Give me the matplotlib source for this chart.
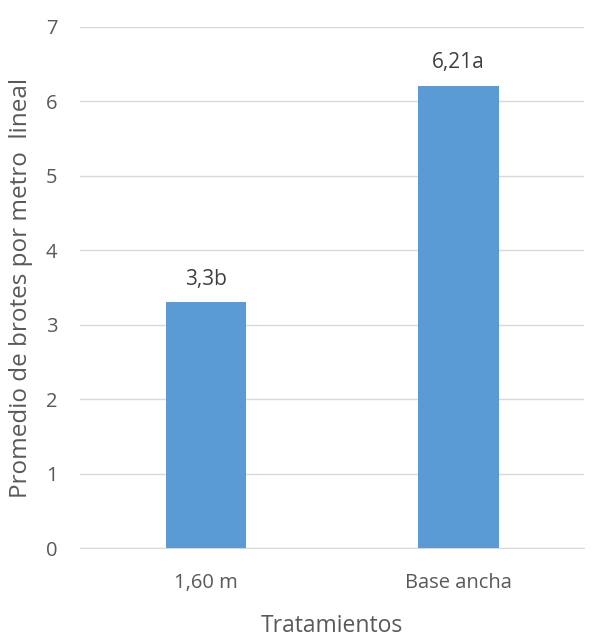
import matplotlib
matplotlib.use("Agg")
import matplotlib.pyplot as plt

# datos
tratamientos = ["1,60 m", "Base ancha"]
promedios = [3.3, 6.21]
etiquetas = ["3,3b", "6,21a"]

gris = "#595959"
plt.rcParams['font.family'] = ['Open Sans', 'DejaVu Sans']

fig = plt.figure(figsize=(5.95, 6.39), dpi=100)
ax = fig.add_axes([0.134, 0.142, 0.848, 0.816])

x = range(len(tratamientos))
barras = ax.bar(x, promedios, width=0.32, color="#5B9BD5", zorder=3)

# etiquetas encima de las barras
for b, txt in zip(barras, etiquetas):
    ax.annotate(txt, (b.get_x() + b.get_width() / 2, b.get_height()),
                xytext=(0, 9), textcoords="offset points",
                ha="center", va="bottom", fontsize=15, color="#404040")

ax.set_xlim(-0.5, 1.5)
ax.set_ylim(0, 7)
ax.set_yticks(range(0, 8))
ax.set_xticks(list(x))
ax.set_xticklabels(tratamientos)
ax.tick_params(axis="both", length=0, labelsize=14.5, colors=gris)
ax.tick_params(axis="y", pad=16)
ax.tick_params(axis="x", pad=18)

ax.grid(axis="y", color="#D9D9D9", linewidth=1, zorder=0)
for s in ["top", "right", "left"]:
    ax.spines[s].set_visible(False)
ax.spines["bottom"].set_color("#D9D9D9")

ax.set_xlabel("Tratamientos", fontsize=16.5, color=gris, labelpad=15)
ax.set_ylabel("Promedio de brotes por metro  lineal", fontsize=17.5, color=gris, labelpad=9)

fig.savefig("out.png", dpi=100)
